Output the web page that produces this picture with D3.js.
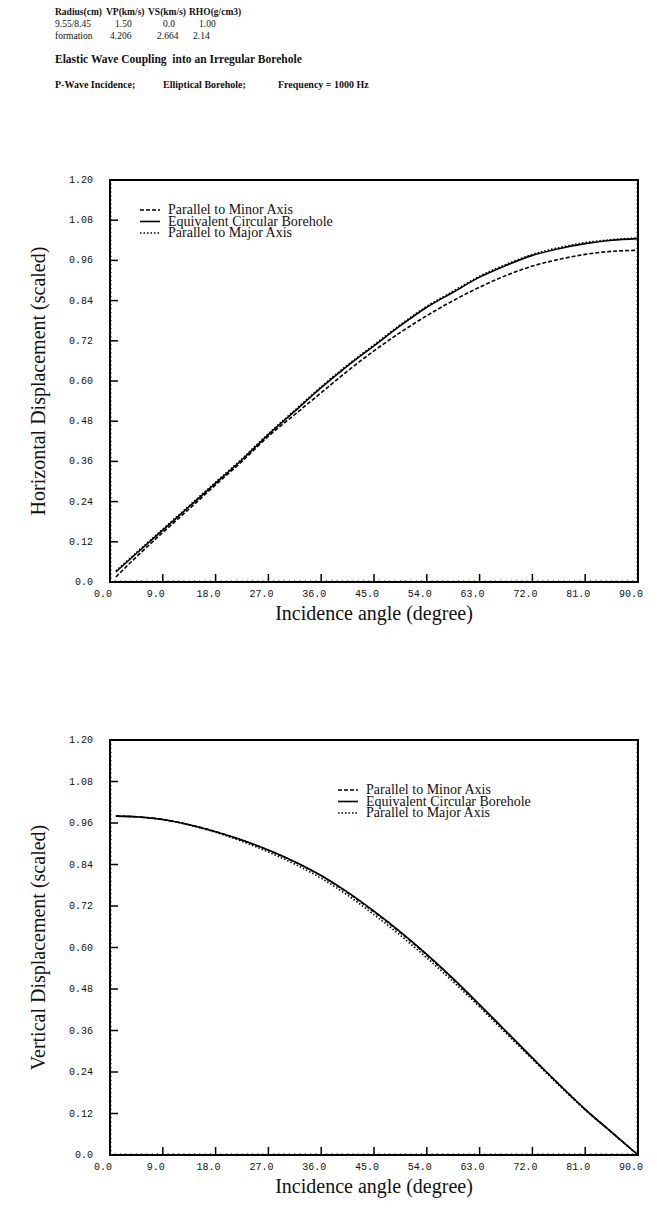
<!DOCTYPE html>
<html>
<head>
<meta charset="utf-8">
<title>Elastic Wave Coupling into an Irregular Borehole</title>
<script src="https://cdn.jsdelivr.net/npm/d3@7"></script>
<style>
	body, html {
		margin: 0;
		padding: 0;
		background: #fff;
	}
	svg {
		display: block;
	}
	.hdr {
		font-family: "Liberation Serif", serif;
		font-weight: bold;
		fill: #111;
	}
	.tick-lbl {
		font-family: "Liberation Mono", monospace;
		font-size: 10px;
		fill: #111;
	}
	.ax-title {
		font-family: "Liberation Serif", serif;
		font-size: 20px;
		fill: #111;
	}
	.leg {
		font-family: "Liberation Serif", serif;
		font-size: 14px;
		fill: #111;
	}
</style>
</head>
<body>
<svg id="chart" width="657" height="1218"></svg>

<script>
// header table
var headerCols = ["Radius(cm)", "VP(km/s)", "VS(km/s)", "RHO(g/cm3)"];
var headerRow1 = ["9.55/8.45", "1.50", "0.0", "1.00"];
var headerRow2 = ["formation", "4.206", "2.664", "2.14"];
var subtitleParts = ["P-Wave Incidence;", "Elliptical Borehole;", "Frequency = 1000 Hz"];

// x ticks and y ticks shared by both panels
var xTicks = [0, 9, 18, 27, 36, 45, 54, 63, 72, 81, 90];
var yTicks = [0, 0.12, 0.24, 0.36, 0.48, 0.60, 0.72, 0.84, 0.96, 1.08, 1.20];
var yTickLabels = ["0.0", "0.12", "0.24", "0.36", "0.48", "0.60", "0.72", "0.84", "0.96", "1.08", "1.20"];
var xTickLabels = ["0.0", "9.0", "18.0", "27.0", "36.0", "45.0", "54.0", "63.0", "72.0", "81.0", "90.0"];

var seriesNames = ["Parallel to Minor Axis", "Equivalent Circular Borehole", "Parallel to Major Axis"];

// angles (degree) the curves were read at
var angles = [1, 4.5, 9, 13.5, 18, 22.5, 27, 31.5, 36, 40.5, 45, 49.5, 54, 58.5, 63, 67.5, 72, 76.5, 81, 85.5, 90];

// horizontal displacement
var horizMinor    = [0.015, 0.075, 0.148, 0.218, 0.29, 0.36, 0.435, 0.50, 0.565, 0.63, 0.69, 0.745, 0.795, 0.84, 0.88, 0.915, 0.943, 0.963, 0.978, 0.987, 0.99];
var horizCircular = [0.03, 0.085, 0.155, 0.225, 0.295, 0.365, 0.44, 0.51, 0.58, 0.645, 0.705, 0.765, 0.82, 0.865, 0.91, 0.945, 0.975, 0.995, 1.01, 1.02, 1.025];
var horizMajor    = [0.033, 0.088, 0.158, 0.228, 0.298, 0.368, 0.443, 0.513, 0.583, 0.648, 0.708, 0.768, 0.823, 0.868, 0.913, 0.948, 0.978, 0.998, 1.013, 1.022, 1.027];

// vertical displacement
var vertMinor    = [0.98, 0.978, 0.97, 0.955, 0.935, 0.91, 0.881, 0.847, 0.807, 0.758, 0.703, 0.643, 0.578, 0.508, 0.433, 0.357, 0.28, 0.205, 0.132, 0.066, 0.0];
var vertCircular = [0.98, 0.978, 0.97, 0.955, 0.935, 0.911, 0.882, 0.848, 0.808, 0.76, 0.705, 0.645, 0.58, 0.51, 0.435, 0.358, 0.281, 0.205, 0.132, 0.066, 0.0];
var vertMajor    = [0.98, 0.978, 0.97, 0.954, 0.933, 0.907, 0.876, 0.841, 0.8, 0.751, 0.695, 0.635, 0.57, 0.501, 0.428, 0.352, 0.277, 0.202, 0.13, 0.065, 0.0];

var svg = d3.select("#chart");

// header text
var colX = [55, 106, 148, 189];
var row1X = [55, 115, 163, 199];
var row2X = [55, 110, 157, 193];
headerCols.forEach(function (t, i) {
	svg.append("text").attr("class", "hdr").attr("x", colX[i]).attr("y", 15).attr("font-size", 9.5).text(t);
});
headerRow1.forEach(function (t, i) {
	svg.append("text").attr("class", "hdr").attr("x", row1X[i]).attr("y", 27).attr("font-size", 9.5).style("font-weight", "normal").text(t);
});
headerRow2.forEach(function (t, i) {
	svg.append("text").attr("class", "hdr").attr("x", row2X[i]).attr("y", 39).attr("font-size", 9.5).style("font-weight", "normal").text(t);
});
svg.append("text").attr("class", "hdr").attr("x", 55).attr("y", 63).attr("font-size", 11.5)
	.style("white-space", "pre").text("Elastic Wave Coupling  into an Irregular Borehole");
var subX = [55, 163, 278];
subtitleParts.forEach(function (t, i) {
	svg.append("text").attr("class", "hdr").attr("x", subX[i]).attr("y", 88).attr("font-size", 10).text(t);
});

function drawPanel(top, bottom, yTitle, minor, circ, major, legX, legY) {
	var left = 110, right = 638;
	var x = d3.scaleLinear().domain([0, 90]).range([left, right]);
	var y = d3.scaleLinear().domain([0, 1.2]).range([bottom, top]);
	var g = svg.append("g");

	// minor ticks
	var xMinor = d3.range(0, 90.001, 0.9);
	var yMinor = d3.range(0, 1.2001, 0.012);
	g.selectAll(".xm").data(xMinor).enter().append("line")
		.attr("x1", function (d) { return x(d); }).attr("x2", function (d) { return x(d); })
		.attr("y1", bottom).attr("y2", bottom - 2)
		.attr("stroke", "#333").attr("stroke-width", 0.7);
	g.selectAll(".ym").data(yMinor).enter().append("line")
		.attr("x1", left).attr("x2", left + 2)
		.attr("y1", function (d) { return y(d); }).attr("y2", function (d) { return y(d); })
		.attr("stroke", "#333").attr("stroke-width", 0.7);
	g.selectAll(".ymr").data(yMinor).enter().append("line")
		.attr("x1", right).attr("x2", right - 2)
		.attr("y1", function (d) { return y(d); }).attr("y2", function (d) { return y(d); })
		.attr("stroke", "#333").attr("stroke-width", 0.7);

	// major ticks
	g.selectAll(".xM").data(xTicks).enter().append("line")
		.attr("x1", function (d) { return x(d); }).attr("x2", function (d) { return x(d); })
		.attr("y1", bottom).attr("y2", bottom - 8)
		.attr("stroke", "#000").attr("stroke-width", 1.5);
	g.selectAll(".yM").data(yTicks).enter().append("line")
		.attr("x1", left).attr("x2", left + 8)
		.attr("y1", function (d) { return y(d); }).attr("y2", function (d) { return y(d); })
		.attr("stroke", "#000").attr("stroke-width", 1.5);

	// frame
	g.append("rect").attr("x", left).attr("y", top)
		.attr("width", right - left).attr("height", bottom - top)
		.attr("fill", "none").attr("stroke", "#000").attr("stroke-width", 2);

	// tick labels
	g.selectAll(".xl").data(xTicks).enter().append("text")
		.attr("class", "tick-lbl")
		.attr("x", function (d) { return x(d) - 7; })
		.attr("y", bottom + 15)
		.attr("text-anchor", "middle")
		.text(function (d, i) { return xTickLabels[i]; });
	g.selectAll(".yl").data(yTicks).enter().append("text")
		.attr("class", "tick-lbl")
		.attr("x", left - 17)
		.attr("y", function (d) { return y(d) + 3; })
		.attr("text-anchor", "end")
		.text(function (d, i) { return yTickLabels[i]; });

	// axis titles
	g.append("text").attr("class", "ax-title")
		.attr("transform", "translate(45," + ((top + bottom) / 2) + ") rotate(-90)")
		.attr("text-anchor", "middle").text(yTitle);
	g.append("text").attr("class", "ax-title")
		.attr("x", (left + right) / 2).attr("y", bottom + 38)
		.attr("text-anchor", "middle").text("Incidence angle (degree)");

	// curves
	var line = d3.line()
		.x(function (d) { return x(d[0]); })
		.y(function (d) { return y(d[1]); })
		.curve(d3.curveMonotoneX);
	var styles = [
		{ dash: "4,2", width: 1.6 },
		{ dash: null, width: 1.6 },
		{ dash: "1.5,2", width: 1.6 }
	];
	[minor, circ, major].forEach(function (vals, k) {
		var pts = angles.map(function (a, i) { return [a, vals[i]]; });
		g.append("path").datum(pts)
			.attr("d", line)
			.attr("fill", "none").attr("stroke", "#000")
			.attr("stroke-width", styles[k].width)
			.attr("stroke-dasharray", styles[k].dash);
	});

	// legend
	seriesNames.forEach(function (name, k) {
		var ly = legY + k * 11.5;
		g.append("line").attr("x1", legX).attr("x2", legX + 20)
			.attr("y1", ly).attr("y2", ly)
			.attr("stroke", "#000").attr("stroke-width", 1.6)
			.attr("stroke-dasharray", styles[k].dash);
		g.append("text").attr("class", "leg")
			.attr("x", legX + 28).attr("y", ly + 4).text(name);
	});
}

drawPanel(180, 582, "Horizontal Displacement (scaled)", horizMinor, horizCircular, horizMajor, 140, 210);
drawPanel(740, 1155, "Vertical Displacement (scaled)", vertMinor, vertCircular, vertMajor, 338, 790);
</script>
</body>
</html>
